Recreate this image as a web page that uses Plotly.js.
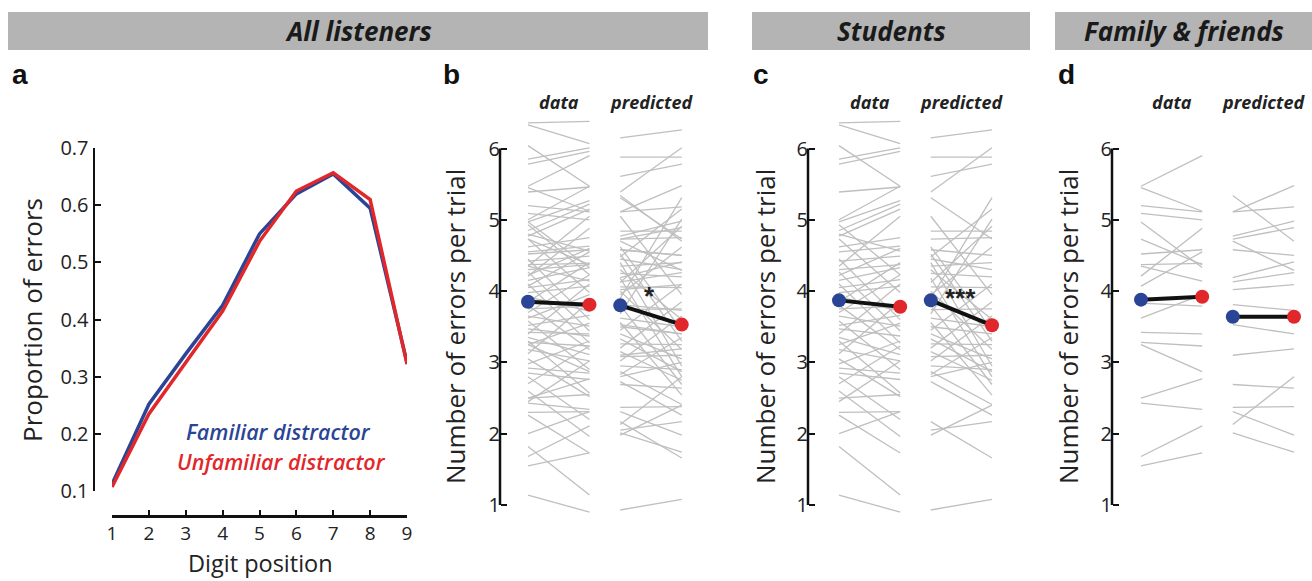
<!DOCTYPE html>
<html><head><meta charset="utf-8">
<script src="https://cdn.plot.ly/plotly-3.0.1.min.js"></script>
<style>html,body{margin:0;padding:0;background:#fff}#chart{width:1312px;height:581px}</style>
</head><body><div id="chart"></div>
<script>
// ---- Panel a ----
const digitPositions = [1,2,3,4,5,6,7,8,9];
const familiarErrors   = [0.112,0.252,0.340,0.425,0.550,0.620,0.655,0.595,0.325];
const unfamiliarErrors = [0.107,0.235,0.325,0.415,0.537,0.625,0.657,0.610,0.322];

// ---- Students (panel c): per-listener errors per trial ----
const studentsDataFamiliar   = [6.36,6.33,6.04,5.85,5.78,5.39,5.00,4.97,4.93,4.85,4.80,4.77,4.73,4.62,4.55,4.45,4.42,4.35,4.30,4.27,4.22,4.15,4.10,4.05,3.98,3.92,3.85,3.80,3.75,3.70,3.65,3.58,3.52,3.47,3.40,3.35,3.30,3.25,3.18,3.12,3.05,2.98,2.92,2.85,2.80,2.70,2.60,2.50,2.45,2.30,2.26,2.00,1.82,1.14];
const studentsDataUnfamiliar = [6.38,6.07,5.47,6.01,5.96,5.46,5.47,5.27,4.23,5.22,4.56,5.15,3.98,4.75,4.63,3.60,4.49,5.05,4.37,3.44,4.60,4.33,3.27,4.16,4.07,3.72,4.40,3.18,3.79,4.23,3.51,2.90,3.66,3.37,4.10,3.11,2.57,3.55,3.02,3.85,2.52,3.30,2.85,2.76,2.20,3.23,1.96,2.55,3.02,2.31,1.73,2.31,1.14,0.90];
const studentsPredFamiliar   = [6.15,5.88,5.61,5.39,5.31,5.05,4.84,4.73,4.62,4.58,4.52,4.48,4.45,4.40,4.35,4.30,4.25,4.18,4.12,4.06,4.00,3.95,3.80,3.74,3.68,3.62,3.56,3.50,3.45,3.40,3.33,3.26,3.20,3.15,3.08,3.02,2.95,2.87,2.83,2.73,2.17,1.98,2.05,0.93,3.90,2.80];
const studentsPredUnfamiliar = [6.26,5.88,5.78,6.01,4.73,3.95,4.84,4.75,3.45,4.50,3.30,5.15,4.30,2.95,4.40,3.60,4.20,2.80,4.91,4.05,3.18,4.62,2.69,3.75,5.01,3.50,2.54,3.40,4.10,3.05,2.87,3.25,3.85,2.75,3.10,3.65,2.90,2.41,3.35,2.26,1.66,2.40,2.17,1.08,5.31,3.00];

// ---- Family & friends (panel d) ----
const familyDataFamiliar   = [5.47,5.45,5.20,5.09,4.97,4.73,4.52,4.37,4.35,4.21,4.07,3.83,3.62,3.42,3.28,3.25,2.50,2.43,1.68,1.55];
const familyDataUnfamiliar = [5.90,5.12,5.11,5.00,4.33,4.37,4.58,4.39,4.14,4.88,4.55,3.79,3.95,3.40,3.23,2.87,2.77,2.34,2.11,1.73];
const familyPredFamiliar   = [5.34,5.11,5.11,4.77,4.73,4.70,4.58,4.19,4.13,4.02,3.81,3.53,3.10,2.69,2.37,2.31,2.13,2.01];
const familyPredUnfamiliar = [4.70,5.48,5.18,4.98,4.89,4.29,4.50,4.41,4.26,4.09,3.73,3.40,3.19,2.64,2.38,1.98,2.80,1.74];

// ---- Group means (familiar, unfamiliar) ----
const meanAllData      = [3.85, 3.81];
const meanAllPred      = [3.80, 3.53];
const meanStudentsData = [3.87, 3.78];
const meanStudentsPred = [3.87, 3.52];
const meanFamilyData   = [3.88, 3.92];
const meanFamilyPred   = [3.64, 3.64];

// All listeners = students + family & friends
const allDataFamiliar   = studentsDataFamiliar.concat(familyDataFamiliar);
const allDataUnfamiliar = studentsDataUnfamiliar.concat(familyDataUnfamiliar);
const allPredFamiliar   = studentsPredFamiliar.concat(familyPredFamiliar);
const allPredUnfamiliar = studentsPredUnfamiliar.concat(familyPredUnfamiliar);

const W = 1312, H = 581;
const px = v => v / W, py = v => 1 - v / H;
const BLUE = '#2b4596', RED = '#e2272b', GRAY = '#bfbfbf';
const FONT = '"Open Sans", "Noto Sans", sans-serif';
const COL = {dataL:0, dataR:1, predL:1.5, predR:2.5};

function pairs(l, r, x0, x1, xa, ya) {
  const x = [], y = [];
  for (let i = 0; i < l.length; i++) { x.push(x0, x1, null); y.push(l[i], r[i], null); }
  return {type:'scatter', mode:'lines', x, y, xaxis:xa, yaxis:ya, connectgaps:false,
          line:{color:GRAY, width:1.3}, hoverinfo:'skip', showlegend:false};
}
function meanTrace(m, x0, x1, xa, ya) {
  return {type:'scatter', mode:'lines+markers', x:[x0,x1], y:m, xaxis:xa, yaxis:ya,
          line:{color:'#111', width:4}, marker:{size:14, color:[BLUE, RED]},
          cliponaxis:false, hoverinfo:'skip', showlegend:false};
}

const traces = [
  {type:'scatter', mode:'lines', x:digitPositions, y:familiarErrors, line:{color:BLUE, width:3.5}, showlegend:false, xaxis:'x', yaxis:'y'},
  {type:'scatter', mode:'lines', x:digitPositions, y:unfamiliarErrors, line:{color:RED, width:3.5}, showlegend:false, xaxis:'x', yaxis:'y'}
];
const panels = [
  {xa:'x2', ya:'y2', dF:allDataFamiliar, dU:allDataUnfamiliar, pF:allPredFamiliar, pU:allPredUnfamiliar, md:meanAllData, mp:meanAllPred},
  {xa:'x3', ya:'y3', dF:studentsDataFamiliar, dU:studentsDataUnfamiliar, pF:studentsPredFamiliar, pU:studentsPredUnfamiliar, md:meanStudentsData, mp:meanStudentsPred},
  {xa:'x4', ya:'y4', dF:familyDataFamiliar, dU:familyDataUnfamiliar, pF:familyPredFamiliar, pU:familyPredUnfamiliar, md:meanFamilyData, mp:meanFamilyPred}
];
panels.forEach(p => {
  traces.push(pairs(p.dF, p.dU, COL.dataL, COL.dataR, p.xa, p.ya));
  traces.push(pairs(p.pF, p.pU, COL.predL, COL.predR, p.xa, p.ya));
});
panels.forEach(p => {
  traces.push(meanTrace(p.md, COL.dataL, COL.dataR, p.xa, p.ya));
  traces.push(meanTrace(p.mp, COL.predL, COL.predR, p.xa, p.ya));
});

// geometry (pixels)
const yTop6 = 148.5, yBot1 = 505, unitY = (yBot1 - yTop6) / 5;
const yRange = [0.8, 6.5];
const yDom = [py(yBot1 + (1 - yRange[0]) * unitY), py(yTop6 - (yRange[1] - 6) * unitY)];
const xRange = [-0.4, 2.75];
const panelGeo = [
  {x0:528, unit:61.5, axisX:500, titleX:455},
  {x0:839, unit:61.2, axisX:808, titleX:765},
  {x0:1141, unit:61.2, axisX:1112, titleX:1068}
];

const tickFont = {family:FONT, size:20, color:'#222'};
const layout = {
  width:W, height:H, margin:{l:0, r:0, t:0, b:0},
  paper_bgcolor:'#fff', plot_bgcolor:'rgba(0,0,0,0)', showlegend:false,
  xaxis:{domain:[px(112), px(407)], range:[1,9], anchor:'free', position:py(516),
         tickvals:digitPositions, ticks:'inside', ticklen:5, tickwidth:2, tickcolor:'#111',
         showline:true, linecolor:'#111', linewidth:2.5, showgrid:false, zeroline:false,
         tickfont:{family:FONT, size:19, color:'#222'}, fixedrange:true},
  yaxis:{domain:[py(491), py(148.2)], range:[0.1,0.7], anchor:'free', position:px(93.5),
         tickvals:[0.1,0.2,0.3,0.4,0.5,0.6,0.7], ticktext:['0.1','0.2','0.3','0.4','0.5','0.6','0.7'],
         ticks:'inside', ticklen:6, tickwidth:2, tickcolor:'#111',
         showline:true, linecolor:'#111', linewidth:2.5, showgrid:false, zeroline:false,
         tickfont:tickFont, fixedrange:true},
  shapes:[], annotations:[]
};
function note(o) { return Object.assign({showarrow:false, xanchor:'center', yanchor:'middle'}, o); }

panelGeo.forEach((g, i) => {
  const n = i + 2;
  const d0 = g.x0 + xRange[0] * g.unit, d1 = g.x0 + xRange[1] * g.unit;
  layout['xaxis' + n] = {domain:[px(d0), Math.min(1, px(d1))], range:xRange, anchor:'y' + n, visible:false, fixedrange:true};
  layout['yaxis' + n] = {domain:yDom, range:yRange, anchor:'free', position:px(g.axisX),
     tickvals:[1,2,3,4,5,6], ticks:'inside', ticklen:6, tickwidth:2, tickcolor:'#111',
     showline:false, showgrid:false, zeroline:false, tickfont:tickFont, fixedrange:true};
  layout.shapes.push({type:'line', xref:'paper', yref:'y' + n, x0:px(g.axisX), x1:px(g.axisX), y0:1, y1:6,
     line:{color:'#111', width:2.5}});
  layout.annotations.push(
    note({xref:'x' + n, yref:'paper', x:0.5, y:py(102), text:'data',
     font:{family:FONT, size:18, color:'#222', style:'italic', weight:700}}),
    note({xref:'x' + n, yref:'paper', x:2, y:py(102), text:'predicted',
     font:{family:FONT, size:18, color:'#222', style:'italic', weight:700}}),
    note({xref:'paper', yref:'paper', x:px(g.titleX), y:py(327), text:'Number of errors per trial', textangle:-90,
     font:{family:FONT, size:26, color:'#222'}})
  );
});
// significance markers
layout.annotations.push(
  note({xref:'x2', yref:'y2', x:1.98, y:3.93, text:'*', font:{family:'"Liberation Sans", Arial, sans-serif', size:26, color:'#222', weight:700}}),
  note({xref:'x3', yref:'y3', x:1.98, y:3.90, text:'***', font:{family:'"Liberation Sans", Arial, sans-serif', size:26, color:'#222', weight:700}})
);
// headers
const headers = [
  {x0:8, x1:708, text:'All listeners'},
  {x0:752, x1:1030, text:'Students'},
  {x0:1055, x1:1312, text:'Family &amp; friends'}
];
headers.forEach(h => {
  layout.shapes.push({type:'rect', xref:'paper', yref:'paper', x0:px(h.x0), x1:px(h.x1), y0:py(50), y1:py(12),
     fillcolor:'#b4b4b4', line:{width:0}, layer:'below'});
  layout.annotations.push(note({xref:'paper', yref:'paper', x:px((h.x0 + h.x1) / 2), y:py(31), text:h.text,
     font:{family:FONT, size:26, color:'#1a1a1a', style:'italic', weight:700}}));
});
// panel letters
[['a',20],['b',452],['c',761],['d',1066]].forEach(([t, x]) => {
  layout.annotations.push(note({xref:'paper', yref:'paper', x:px(x), y:py(74), text:t,
     font:{family:'"Liberation Sans", Arial, sans-serif', size:28, color:'#111', weight:700}}));
});
// panel a titles and labels
layout.annotations.push(
  note({xref:'paper', yref:'paper', x:px(32), y:py(320), text:'Proportion of errors', textangle:-90,
   font:{family:FONT, size:26, color:'#222'}}),
  note({xref:'paper', yref:'paper', x:px(260), y:0, yanchor:'bottom', text:'Digit position',
   font:{family:FONT, size:23.5, color:'#222'}}),
  note({xref:'paper', yref:'paper', x:px(278), y:py(431), text:'Familiar distractor',
   font:{family:FONT, size:21.5, color:BLUE, style:'italic', weight:600}}),
  note({xref:'paper', yref:'paper', x:px(281.5), y:py(461), text:'Unfamiliar distractor',
   font:{family:FONT, size:21.5, color:RED, style:'italic', weight:600}})
);

Plotly.newPlot('chart', traces, layout, {staticPlot:true, displayModeBar:false});
</script></body></html>
